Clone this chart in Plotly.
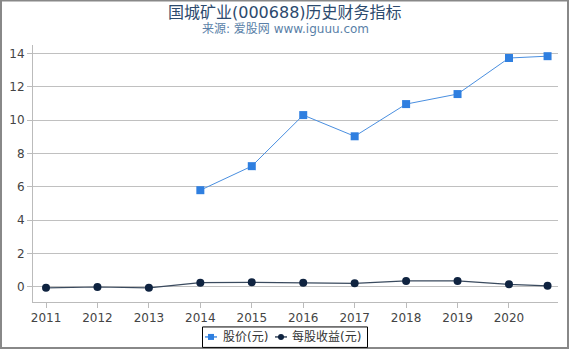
import plotly.graph_objects as go

years_price = [2014, 2015, 2016, 2017, 2018, 2019, 2020, 2020.75]
price = [5.8, 7.24, 10.3, 9.03, 10.96, 11.56, 13.72, 13.83]

years_eps = [2011, 2012, 2013, 2014, 2015, 2016, 2017, 2018, 2019, 2020, 2020.75]
eps = [-0.05, 0.0, -0.05, 0.26, 0.28, 0.26, 0.22, 0.36, 0.36, 0.16, 0.07]

tick_years = list(range(2011, 2021))
tick_labels = [str(y) for y in tick_years]
y_ticks = [0, 2, 4, 6, 8, 10, 12, 14]

title_text = "国城矿业(000688)历史财务指标"
subtitle_text = "来源: 爱股网 www.iguuu.com"
series_names = ["股价(元)", "每股收益(元)"]

PRICE_LINE, PRICE_MARK = "#4a8fe0", "#2f7fe0"
EPS_LINE, EPS_MARK = "#3a4a5e", "#0f2340"

FONT = "DejaVu Sans, Noto Sans CJK SC, sans-serif"

L, R, T, B = 33, 12, 45, 47.5
W, H = 570, 350
PW, PH = W - L - R, H - T - B


def px_x(x):
    return (x - L) / PW


def px_y(y):
    return (H - B - y) / PH


fig = go.Figure()
fig.add_trace(go.Scatter(
    x=years_price, y=price, name=series_names[0], mode="lines+markers",
    line=dict(color=PRICE_LINE, width=1),
    marker=dict(symbol="square", size=8, color=PRICE_MARK),
))
fig.add_trace(go.Scatter(
    x=years_eps, y=eps, name=series_names[1], mode="lines+markers",
    line=dict(color=EPS_LINE, width=1.2),
    marker=dict(symbol="circle", size=8, color=EPS_MARK),
))

LEG_Y = 337.5
shapes = [
    # outer frame
    dict(type="rect", xref="paper", yref="paper",
         x0=px_x(1), x1=px_x(568), y0=px_y(348.5), y1=px_y(0.5),
         line=dict(color="#888", width=2), fillcolor="rgba(0,0,0,0)", layer="above"),
    # legend box
    dict(type="rect", xref="paper", yref="paper",
         x0=px_x(202.5), x1=px_x(367.5), y0=px_y(348), y1=px_y(327.5),
         line=dict(color="#000", width=1), fillcolor="white", layer="above"),
    dict(type="line", xref="paper", yref="paper",
         x0=px_x(205), x1=px_x(217), y0=px_y(LEG_Y), y1=px_y(LEG_Y),
         line=dict(color=PRICE_LINE, width=1.5), layer="above"),
    dict(type="rect", xref="paper", yref="paper",
         x0=px_x(208), x1=px_x(214), y0=px_y(LEG_Y + 3), y1=px_y(LEG_Y - 3),
         line=dict(width=0), fillcolor=PRICE_MARK, layer="above"),
    dict(type="line", xref="paper", yref="paper",
         x0=px_x(275), x1=px_x(287), y0=px_y(LEG_Y), y1=px_y(LEG_Y),
         line=dict(color=EPS_LINE, width=1.5), layer="above"),
    dict(type="circle", xref="paper", yref="paper",
         x0=px_x(278), x1=px_x(284), y0=px_y(LEG_Y + 3), y1=px_y(LEG_Y - 3),
         line=dict(width=0), fillcolor=EPS_MARK, layer="above"),
]

annotations = [
    dict(text=title_text, xref="paper", yref="paper",
         x=px_x(285), y=px_y(12), xanchor="center", yanchor="middle",
         showarrow=False, font=dict(family=FONT, size=16, color="#2c4a6e")),
    dict(text=subtitle_text, xref="paper", yref="paper",
         x=px_x(285), y=px_y(29), xanchor="center", yanchor="middle",
         showarrow=False, font=dict(family=FONT, size=12, color="#5a7fa8")),
    dict(text=series_names[0], xref="paper", yref="paper",
         x=px_x(221), y=px_y(LEG_Y), xanchor="left", yanchor="middle",
         showarrow=False, font=dict(family=FONT, size=12, color="#333")),
    dict(text=series_names[1], xref="paper", yref="paper",
         x=px_x(290), y=px_y(LEG_Y), xanchor="left", yanchor="middle",
         showarrow=False, font=dict(family=FONT, size=12, color="#333")),
]

fig.update_layout(
    width=W, height=H,
    margin=dict(l=L, r=R, t=T, b=B, autoexpand=False),
    paper_bgcolor="white", plot_bgcolor="white",
    font=dict(family=FONT, size=12, color="#444"),
    showlegend=False,
    xaxis=dict(
        range=[2010.747, 2020.953], tickvals=tick_years, ticktext=tick_labels,
        showgrid=False, zeroline=False, showline=True, linecolor="#bbb", linewidth=1,
        ticks="outside", ticklen=5, tickcolor="#bbb",
        tickfont=dict(size=12, color="#444"),
    ),
    yaxis=dict(
        range=[-0.9, 14.5], tickvals=y_ticks,
        showgrid=True, gridcolor="#c0c0c0", gridwidth=1, zeroline=False,
        showline=True, linecolor="#bbb", linewidth=1,
        ticks="outside", ticklen=5, tickcolor="#bbb",
        tickfont=dict(size=12, color="#444"),
    ),
    annotations=annotations,
    shapes=shapes,
)

fig.write_html("out.html")
